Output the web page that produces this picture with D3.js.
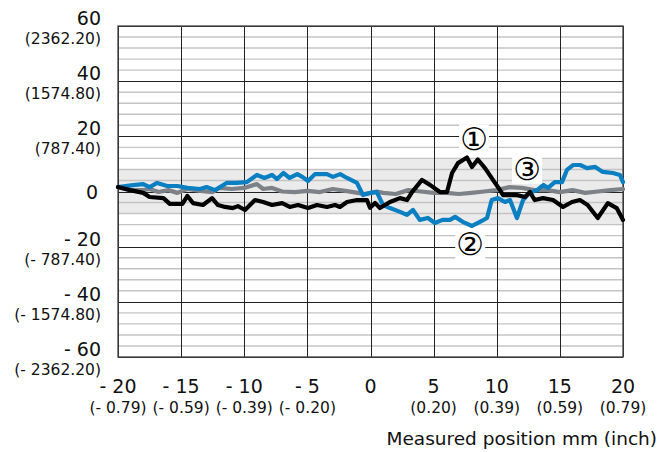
<!DOCTYPE html>
<html><head><meta charset="utf-8">
<script src="https://cdn.jsdelivr.net/npm/d3@7"></script>
<style>
html,body{margin:0;padding:0;background:#fff;}
svg{display:block;font-family:"DejaVu Sans",sans-serif;}
</style></head>
<body>
<svg id="chart" width="668" height="452"></svg>
<script>
// ---- data ----
const xTicks = [-20, -15, -10, -5, 0, 5, 10, 15, 20];
const xTickInch = ["(- 0.79)", "(- 0.59)", "(- 0.39)", "(- 0.20)", "", "(0.20)", "(0.39)", "(0.59)", "(0.79)"];
const yTicks = [60, 40, 20, 0, -20, -40, -60];
const yTickInch = ["(2362.20)", "(1574.80)", "(787.40)", "", "(- 787.40)", "(- 1574.80)", "(- 2362.20)"];
const xTitle = "Measured position mm (inch)";

// tolerance bands: [x from, x to, half width]
const bandFrom = [-20, 0];
const bandTo = [0, 20];
const bandHalf = [8, 12];

// series 1 (black)
const s1x = [-20, -19.05, -18, -17.5, -16.4, -15.9, -14.9, -14.5, -14.06, -13.27, -12.55, -12.08, -11.52, -10.9, -10.5, -9.94, -9.15, -8.5, -7.8, -7.0, -6.4, -5.74, -4.95, -4.24, -3.45, -2.81, -2.42, -1.86, -1.07, -0.28, -0.04, 0.36, 0.75, 1.54, 2.34, 2.89, 3.29, 4.08, 4.71, 5.5, 6.06, 6.46, 6.93, 7.64, 8.04, 8.5, 9.07, 9.7, 10.26, 10.5, 11.6, 12.24, 12.63, 13.0, 13.66, 14.46, 15.25, 15.96, 16.59, 17.2, 18.0, 18.8, 19.5, 20];
const s1y = [1.6, 0.5, -0.5, -2.0, -2.4, -4.5, -4.5, -1.6, -4.2, -4.9, -2.4, -4.9, -5.6, -6.0, -5.3, -6.7, -3.1, -3.8, -4.9, -4.2, -5.6, -4.9, -6.0, -4.9, -5.6, -4.9, -5.6, -3.8, -3.1, -3.1, -5.9, -4.2, -6.0, -3.8, -2.4, -3.1, -0.2, 4.2, 2.4, -0.2, -0.2, 6.7, 10.3, 12.3, 8.9, 11.6, 8.5, 4.2, 0.5, -1.3, -1.3, -2.0, -0.2, -3.1, -2.4, -3.1, -5.6, -3.8, -3.1, -4.9, -9.6, -4.2, -6.0, -10.3];

// series 2 (blue)
const s2x = [-20, -18.8, -18.0, -17.5, -16.9, -16.1, -15.3, -14.5, -13.5, -12.99, -12.3, -11.4, -10.6, -9.8, -9.0, -8.4, -7.8, -7.4, -6.9, -6.4, -5.8, -5.4, -4.95, -4.4, -3.45, -2.97, -2.4, -1.86, -1.07, -0.59, -0.04, 0.5, 0.99, 1.54, 2.34, 2.89, 3.37, 3.9, 4.55, 5.1, 5.7, 6.3, 6.7, 7.3, 8.04, 8.67, 9.23, 9.6, 10.1, 10.65, 11.05, 11.6, 12.08, 12.6, 13.2, 13.7, 14.06, 14.6, 15.17, 15.56, 16.04, 16.6, 17.15, 17.8, 18.4, 19.2, 19.76, 20];
const s2y = [1.6, 2.3, 2.7, 1.6, 3.1, 2.0, 2.0, 1.3, 0.9, 1.6, 0.5, 3.1, 3.1, 3.4, 6.0, 4.9, 6.0, 4.5, 6.7, 4.9, 6.3, 5.3, 3.8, 6.3, 6.3, 5.3, 6.3, 4.9, 3.1, -1.3, -0.5, -0.2, -4.9, -6.0, -7.4, -8.5, -6.7, -10.3, -9.6, -11.4, -10.3, -10.3, -9.2, -11.0, -12.5, -11.0, -9.6, -3.1, -2.4, -3.8, -3.1, -9.6, -3.1, -0.5, 0.5, 2.4, 1.3, 3.4, 3.4, 7.8, 9.6, 9.6, 8.5, 8.9, 7.1, 6.7, 6.0, 3.4];

// series 3 (grey)
const s3x = [-20, -19, -18, -17.5, -16.8, -16, -15.3, -14.5, -13.5, -12.5, -12, -11, -10, -9, -8.5, -7.8, -7, -6, -5, -4, -3, -2, -1, -0.5, 0, 0.5, 1, 2, 3, 4, 5, 6, 7, 8, 9, 10, 11, 12, 13, 14, 15, 16, 17, 18, 19, 20];
const s3y = [1.6, 0.5, 0.5, 0.9, -0.2, 0.5, -0.5, 0.9, 0.2, -0.2, 1.3, 0.9, 1.3, 2.7, 0.9, 1.3, 0, -0.2, 0.2, -0.2, 0.9, 0.2, -0.5, -0.9, -0.5, 0, -0.5, -0.9, 0.5, 0, -0.5, -0.5, -0.9, -0.5, 0, 0.5, 1.6, 1.3, 0.5, 0.5, -0.2, 0.5, -0.5, 0, 0.5, 0.9];

// annotations
const noteText = ["\u2460", "\u2461", "\u2462"];
const noteX = [8.2, 7.9, 12.4];
const noteY = [18.9, -19.2, 8.2];

// ---- drawing ----
const W = 668, H = 452;
const m = {left: 118, right: 45, top: 26, bottom: 95};
const svg = d3.select("#chart");
const x = d3.scaleLinear().domain([-20, 20]).range([m.left, W - m.right]);
const y = d3.scaleLinear().domain([-60, 60]).range([H - m.bottom, m.top]);

// bands
svg.append("g").selectAll("rect").data(bandFrom).join("rect")
  .attr("x", (d, i) => x(bandFrom[i]))
  .attr("width", (d, i) => x(bandTo[i]) - x(bandFrom[i]))
  .attr("y", (d, i) => y(bandHalf[i]))
  .attr("height", (d, i) => y(-bandHalf[i]) - y(bandHalf[i]))
  .attr("fill", "#ebebeb");

// minor grid
const minor = d3.range(-60, 61, 4).filter(v => v % 20 !== 0);
svg.append("g").selectAll("line").data(minor).join("line")
  .attr("x1", x(-20)).attr("x2", x(20))
  .attr("y1", d => y(d)).attr("y2", d => y(d))
  .attr("stroke", "#c4c4c4").attr("stroke-width", 1.4);

// major horizontal grid
svg.append("g").selectAll("line").data(yTicks).join("line")
  .attr("x1", x(-20)).attr("x2", x(20))
  .attr("y1", d => Math.round(y(d)) + 0.5).attr("y2", d => Math.round(y(d)) + 0.5)
  .attr("stroke", "#222").attr("stroke-width", 1);

// vertical grid
svg.append("g").selectAll("line").data(xTicks).join("line")
  .attr("y1", y(60)).attr("y2", y(-60))
  .attr("x1", d => Math.round(x(d)) + 0.5).attr("x2", d => Math.round(x(d)) + 0.5)
  .attr("stroke", "#222").attr("stroke-width", 1);

// frame
svg.append("rect").attr("x", x(-20)).attr("y", y(60))
  .attr("width", x(20) - x(-20)).attr("height", y(-60) - y(60))
  .attr("fill", "none").attr("stroke", "#444").attr("stroke-width", 1.3);

// lines
const line = d3.line().x(d => x(d[0])).y(d => y(d[1]));
function series(xs, ys, color) {
  svg.append("path").datum(xs.map((v, i) => [v, ys[i]]))
    .attr("d", line).attr("fill", "none").attr("stroke", color)
    .attr("stroke-width", 4.2).attr("stroke-linejoin", "round").attr("stroke-linecap", "round");
}
series(s3x, s3y, "#7c8287");
series(s2x, s2y, "#0a7fc2");
series(s1x, s1y, "#000000");

// annotations
const notes = svg.append("g");
noteText.forEach((t, i) => {
  notes.append("rect").attr("x", x(noteX[i]) - 15).attr("y", y(noteY[i]) - 15)
    .attr("width", 30).attr("height", 30).attr("fill", "#fff");
  notes.append("text").attr("x", x(noteX[i])).attr("y", y(noteY[i]))
    .attr("text-anchor", "middle").attr("dominant-baseline", "central")
    .attr("font-size", 31).attr("fill", "#000").text(t);
});

// y labels
const fmt = v => v < 0 ? "- " + (-v) : String(v);
const yl = svg.append("g").attr("font-size", 19).attr("fill", "#111").attr("text-anchor", "end");
yTicks.forEach((v, i) => {
  const yy = y(v);
  if (v === 0) {
    yl.append("text").attr("x", 98).attr("y", yy + 7).text(fmt(v));
  } else {
    yl.append("text").attr("x", 101).attr("y", yy - 1).text(fmt(v));
    yl.append("text").attr("x", 101).attr("y", yy + 18).attr("font-size", 15.5).text(yTickInch[i]);
  }
});

// x labels
const xl = svg.append("g").attr("font-size", 19).attr("fill", "#111").attr("text-anchor", "middle");
xTicks.forEach((v, i) => {
  xl.append("text").attr("x", x(v)).attr("y", H - m.bottom + 36).text(fmt(v));
  xl.append("text").attr("x", x(v)).attr("y", H - m.bottom + 56).attr("font-size", 15.5).text(xTickInch[i]);
});
svg.append("text").attr("x", 657).attr("y", 445).attr("text-anchor", "end")
  .attr("font-size", 18.5).attr("fill", "#111").text(xTitle);
</script>
</body></html>
